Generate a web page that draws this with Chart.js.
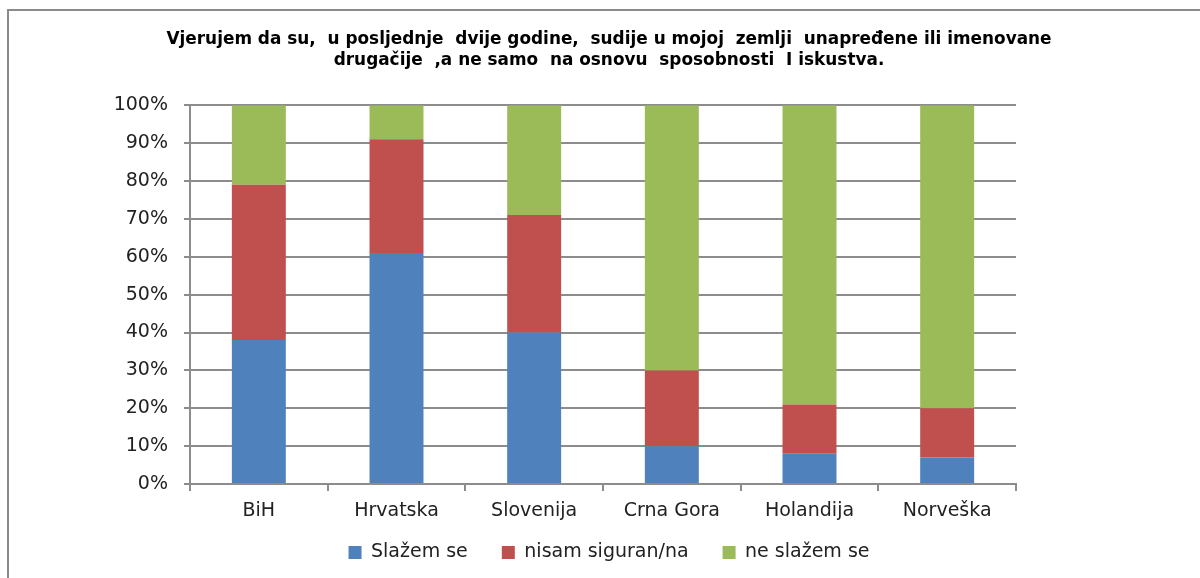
<!DOCTYPE html>
<html>
<head>
<meta charset="utf-8">
<script src="https://cdn.jsdelivr.net/npm/chart.js@4"></script>
<style>
	html, body { margin: 0; padding: 0; background: #fff; }
	#okvir { position: absolute; left: 7px; top: 9px; width: 1193px; height: 569px; border-top: 2px solid #8a8a8a; border-left: 2px solid #8a8a8a; box-sizing: border-box; }
	#wrap { position: absolute; left: 0; top: 0; width: 1200px; height: 578px; }
</style>
</head>
<body>
<div id="okvir"></div>
<div id="wrap"><canvas id="grafika" width="1200" height="578"></canvas></div>
<script>
const drzave = ["BiH", "Hrvatska", "Slovenija", "Crna Gora", "Holandija", "Norveška"];
const slazemSe = [38, 61, 40, 10, 8, 7];
const nisamSiguran = [41, 30, 31, 20, 13, 13];
const neSlazemSe = [21, 9, 29, 70, 79, 80];
const yTicks = [0, 10, 20, 30, 40, 50, 60, 70, 80, 90, 100];
const naslov = [
	"Vjerujem da su,  u posljednje  dvije godine,  sudije u mojoj  zemlji  unapređene ili imenovane",
	"drugačije  ,a ne samo  na osnovu  sposobnosti  I iskustva."
];

(function () {
	const ctx = document.getElementById("grafika");
	const siva = "#8c8c8c";
	const fontOsi = { family: "DejaVu Sans", size: 19 };

	new Chart(ctx, {
		type: "bar",
		data: {
			labels: drzave,
			datasets: [
				{ label: "Slažem se", data: slazemSe, backgroundColor: "#4f81bd" },
				{ label: "nisam siguran/na", data: nisamSiguran, backgroundColor: "#c0504d" },
				{ label: "ne slažem se", data: neSlazemSe, backgroundColor: "#9bbb59" },
			],
		},
		options: {
			responsive: false,
			animation: false,
			layout: { padding: { left: 18, right: 0, top: 0, bottom: 6 } },
			datasets: { bar: { categoryPercentage: 1, barPercentage: 0.392 } },
			scales: {
				x: {
					stacked: true,
					afterFit: (s) => {
						s.height = 25;
						// labels hang below the shortened axis box, so no clipping
						s._computeLabelArea = () => undefined;
					},
					grid: { offset: true, drawOnChartArea: false, drawTicks: true, tickLength: 7, color: siva, lineWidth: 2 },
					border: { color: siva, width: 2 },
					ticks: { color: "#222", font: fontOsi, padding: 9 },
				},
				y: {
					stacked: true,
					min: 0,
					max: 100,
					afterBuildTicks: (s) => { s.ticks = yTicks.map((v) => ({ value: v })); },
					afterFit: (s) => { s.width = 172; },
					grid: { color: siva, lineWidth: 2, tickLength: 6 },
					border: { color: siva, width: 2 },
					ticks: { color: "#222", font: fontOsi, padding: 16, callback: (v) => v + "%" },
				},
				desno: {
					position: "right",
					display: true,
					afterFit: (s) => { s.width = 184; },
					grid: { display: false },
					border: { display: false },
					ticks: { display: false },
				},
			},
			plugins: {
				title: {
					display: true,
					text: naslov,
					color: "#000",
					font: { family: "DejaVu Sans", size: 16.9, weight: "bold", lineHeight: 1.25 },
					padding: { top: 29, bottom: 34 },
				},
				legend: {
					position: "bottom",
					labels: { color: "#222", font: fontOsi, boxWidth: 13, boxHeight: 13, padding: 34 },
				},
				tooltip: { enabled: false },
			},
		},
	});
})();
</script>
</body>
</html>
